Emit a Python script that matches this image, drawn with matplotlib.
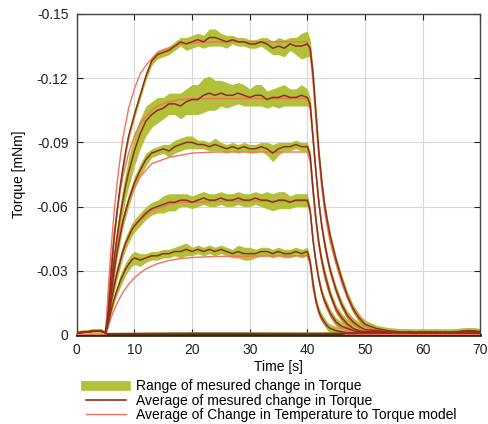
import numpy as np
import matplotlib.pyplot as plt
from matplotlib.lines import Line2D

plt.rcParams["font.family"] = ["Liberation Sans", "DejaVu Sans"]

# time grid of the measured data [s]
t_meas = [0, 1, 2, 3, 4, 5,
          5.5, 6, 6.5, 7, 7.5, 8, 8.5, 9, 9.5, 10,
          11, 12, 13, 14, 15, 16, 17, 18, 19, 20, 21, 22, 23, 24, 25,
          26, 27, 28, 29, 30, 31, 32, 33, 34, 35, 36, 37, 38, 39, 40,
          40.5, 41, 41.5, 42, 42.5, 43, 43.5, 44,
          45, 46, 47, 48, 49, 50,
          52, 54, 56, 58, 60, 62, 64, 66, 68, 70]

# averages of the measured torque change [mNm], five load cases
avg_a = [-0.001, -0.0012, -0.0015, -0.0018, -0.002, -0.001,
         -0.012, -0.030, -0.046, -0.058, -0.069, -0.078, -0.086, -0.093, -0.098, -0.103,
         -0.112, -0.121, -0.128, -0.131, -0.132, -0.133, -0.135, -0.137, -0.136, -0.137,
         -0.138, -0.137, -0.139, -0.139, -0.138, -0.137, -0.138, -0.137, -0.137, -0.136,
         -0.136, -0.137, -0.136, -0.134, -0.135, -0.134, -0.136, -0.135, -0.135, -0.136,
         -0.134, -0.122, -0.104, -0.086, -0.072, -0.061, -0.053, -0.046,
         -0.035, -0.026, -0.018, -0.012, -0.008, -0.005,
         -0.003, -0.002, -0.0015, -0.0015, -0.001, -0.0015, -0.001, -0.0015, -0.002, -0.0015]
avg_b = [-0.001, -0.0012, -0.0015, -0.0018, -0.002, -0.001,
         -0.010, -0.024, -0.036, -0.046, -0.055, -0.063, -0.070, -0.076, -0.081, -0.086,
         -0.094, -0.100, -0.103, -0.105, -0.106, -0.108, -0.108, -0.107, -0.109, -0.110,
         -0.110, -0.112, -0.113, -0.112, -0.113, -0.112, -0.112, -0.113, -0.112, -0.111,
         -0.112, -0.112, -0.110, -0.111, -0.111, -0.112, -0.111, -0.111, -0.112, -0.111,
         -0.108, -0.092, -0.076, -0.062, -0.051, -0.043, -0.036, -0.030,
         -0.021, -0.014, -0.009, -0.006, -0.004, -0.0025,
         -0.002, -0.0015, -0.0015, -0.001, -0.0015, -0.001, -0.001, -0.0015, -0.002, -0.0015]
avg_c = [-0.001, -0.0012, -0.0015, -0.0018, -0.002, -0.001,
         -0.009, -0.020, -0.030, -0.039, -0.046, -0.053, -0.058, -0.063, -0.067, -0.071,
         -0.077, -0.082, -0.085, -0.086, -0.087, -0.086, -0.088, -0.089, -0.090, -0.090,
         -0.089, -0.089, -0.088, -0.089, -0.088, -0.087, -0.088, -0.087, -0.088, -0.087,
         -0.087, -0.088, -0.087, -0.085, -0.087, -0.088, -0.088, -0.089, -0.088, -0.088,
         -0.084, -0.068, -0.054, -0.043, -0.035, -0.029, -0.024, -0.019,
         -0.012, -0.008, -0.005, -0.003, -0.002, -0.0015,
         -0.0015, -0.001, -0.0015, -0.001, -0.001, -0.0015, -0.001, -0.001, -0.0015, -0.001]
avg_d = [-0.001, -0.0012, -0.0015, -0.0018, -0.002, -0.001,
         -0.007, -0.016, -0.023, -0.029, -0.034, -0.039, -0.043, -0.046, -0.049, -0.051,
         -0.054, -0.057, -0.059, -0.060, -0.061, -0.062, -0.062, -0.063, -0.063, -0.062,
         -0.063, -0.064, -0.063, -0.063, -0.064, -0.063, -0.063, -0.064, -0.063, -0.063,
         -0.064, -0.063, -0.063, -0.062, -0.063, -0.063, -0.062, -0.063, -0.063, -0.063,
         -0.058, -0.044, -0.034, -0.026, -0.020, -0.016, -0.013, -0.010,
         -0.006, -0.004, -0.003, -0.002, -0.0015, -0.001,
         -0.001, -0.0015, -0.001, -0.001, -0.0015, -0.001, -0.001, -0.0015, -0.001, -0.001]
avg_e = [-0.001, -0.0012, -0.0015, -0.0018, -0.002, -0.001,
         -0.006, -0.012, -0.017, -0.021, -0.025, -0.028, -0.031, -0.033, -0.035, -0.036,
         -0.035, -0.036, -0.037, -0.037, -0.038, -0.038, -0.039, -0.039, -0.040, -0.039,
         -0.040, -0.039, -0.040, -0.039, -0.040, -0.039, -0.038, -0.039, -0.038, -0.038,
         -0.038, -0.039, -0.039, -0.038, -0.039, -0.038, -0.038, -0.039, -0.038, -0.039,
         -0.034, -0.024, -0.016, -0.011, -0.008, -0.006, -0.004, -0.003,
         -0.002, -0.0015, -0.001, -0.001, -0.001, -0.001,
         -0.001, -0.001, -0.0015, -0.001, -0.001, -0.001, -0.0015, -0.001, -0.002, -0.0015]

# half width of the measured range around each average
half_a = [0.001, 0.001, 0.001, 0.001, 0.001, 0.001,
          0.001, 0.002, 0.002, 0.002, 0.002, 0.002, 0.002, 0.002, 0.002, 0.002,
          0.002, 0.002, 0.002, 0.002, 0.002, 0.002, 0.002, 0.002, 0.003, 0.003,
          0.003, 0.003, 0.004, 0.004, 0.003, 0.003, 0.002, 0.002, 0.002, 0.002,
          0.002, 0.002, 0.003, 0.003, 0.004, 0.004, 0.003, 0.004, 0.006, 0.006,
          0.004, 0.003, 0.002, 0.002, 0.002, 0.002, 0.002, 0.002,
          0.002, 0.002, 0.002, 0.002, 0.002, 0.002,
          0.0015, 0.0015, 0.0015, 0.0015, 0.0015, 0.0015, 0.0015, 0.0015, 0.0015, 0.0015]
half_b = [0.001, 0.001, 0.001, 0.001, 0.001, 0.001,
          0.002, 0.003, 0.004, 0.005, 0.005, 0.006, 0.006, 0.007, 0.007, 0.007,
          0.007, 0.007, 0.006, 0.006, 0.005, 0.005, 0.005, 0.006, 0.006, 0.007,
          0.007, 0.008, 0.008, 0.007, 0.006, 0.006, 0.005, 0.005, 0.005, 0.004,
          0.005, 0.005, 0.004, 0.004, 0.005, 0.005, 0.004, 0.004, 0.005, 0.004,
          0.003, 0.003, 0.002, 0.002, 0.002, 0.002, 0.002, 0.002,
          0.002, 0.002, 0.002, 0.002, 0.002, 0.002,
          0.0015, 0.0015, 0.0015, 0.0015, 0.0015, 0.0015, 0.0015, 0.0015, 0.0015, 0.0015]
half_c = [0.001, 0.001, 0.001, 0.001, 0.001, 0.001,
          0.002, 0.002, 0.003, 0.003, 0.003, 0.003, 0.003, 0.003, 0.003, 0.003,
          0.003, 0.003, 0.002, 0.002, 0.002, 0.003, 0.003, 0.003, 0.003, 0.003,
          0.002, 0.002, 0.002, 0.003, 0.002, 0.002, 0.002, 0.002, 0.002, 0.002,
          0.002, 0.002, 0.003, 0.004, 0.003, 0.002, 0.002, 0.002, 0.002, 0.002,
          0.002, 0.002, 0.002, 0.002, 0.002, 0.002, 0.002, 0.002,
          0.002, 0.002, 0.002, 0.002, 0.002, 0.002,
          0.0015, 0.0015, 0.0015, 0.0015, 0.0015, 0.0015, 0.0015, 0.0015, 0.0015, 0.0015]
half_d = [0.001, 0.001, 0.001, 0.001, 0.001, 0.001,
          0.002, 0.002, 0.003, 0.003, 0.003, 0.003, 0.003, 0.003, 0.003, 0.003,
          0.003, 0.003, 0.003, 0.003, 0.004, 0.004, 0.004, 0.003, 0.003, 0.003,
          0.003, 0.003, 0.003, 0.003, 0.003, 0.003, 0.003, 0.003, 0.003, 0.003,
          0.003, 0.003, 0.004, 0.004, 0.004, 0.004, 0.003, 0.003, 0.003, 0.003,
          0.002, 0.002, 0.002, 0.002, 0.002, 0.002, 0.002, 0.002,
          0.002, 0.002, 0.002, 0.002, 0.002, 0.002,
          0.0015, 0.0015, 0.0015, 0.0015, 0.0015, 0.0015, 0.0015, 0.0015, 0.0015, 0.0015]
half_e = [0.001, 0.001, 0.001, 0.001, 0.001, 0.001,
          0.002, 0.002, 0.002, 0.002, 0.003, 0.003, 0.003, 0.003, 0.003, 0.003,
          0.003, 0.002, 0.002, 0.002, 0.002, 0.002, 0.002, 0.003, 0.003, 0.002,
          0.002, 0.002, 0.002, 0.002, 0.002, 0.002, 0.002, 0.003, 0.003, 0.003,
          0.002, 0.002, 0.002, 0.002, 0.002, 0.002, 0.002, 0.002, 0.002, 0.002,
          0.002, 0.002, 0.002, 0.002, 0.002, 0.002, 0.002, 0.002,
          0.002, 0.002, 0.002, 0.002, 0.002, 0.002,
          0.0015, 0.0015, 0.0015, 0.0015, 0.0015, 0.0015, 0.0015, 0.0015, 0.0015, 0.0015]

# no-load case, stays near zero
t_zero = [5, 20, 40, 55, 70]
avg_zero = [-0.0006, -0.0008, -0.0007, -0.0009, -0.0008]
half_zero = [0.0006, 0.0007, 0.0007, 0.0007, 0.0007]

# temperature-to-torque model
t_model = [0, 5, 5.5, 6, 6.5, 7, 7.5, 8, 9, 10, 11, 12, 13, 14, 16, 18, 20, 24,
           40, 40.5, 41, 41.5, 42, 42.5, 43, 43.5, 44, 45, 46, 47, 48, 49, 50, 52, 55, 70]
model_a = [0, 0, -0.023, -0.042, -0.058, -0.071, -0.082, -0.092, -0.106, -0.115, -0.122,
           -0.126, -0.129, -0.132, -0.134, -0.136, -0.1365, -0.137,
           -0.137, -0.132, -0.118, -0.100, -0.083, -0.069, -0.058, -0.050, -0.043,
           -0.033, -0.024, -0.017, -0.011, -0.007, -0.004, -0.002, -0.001, 0]
model_b = [0, 0, -0.019, -0.034, -0.047, -0.058, -0.067, -0.074, -0.085, -0.093, -0.099,
           -0.102, -0.105, -0.107, -0.109, -0.110, -0.1105, -0.1105,
           -0.1105, -0.106, -0.091, -0.076, -0.062, -0.051, -0.042, -0.035, -0.029,
           -0.020, -0.013, -0.008, -0.005, -0.003, -0.002, -0.001, 0, 0]
model_c = [0, 0, -0.013, -0.024, -0.034, -0.042, -0.048, -0.054, -0.063, -0.069, -0.074,
           -0.077, -0.080, -0.081, -0.083, -0.084, -0.085, -0.0855,
           -0.0855, -0.081, -0.066, -0.053, -0.042, -0.034, -0.027, -0.022, -0.018,
           -0.011, -0.007, -0.004, -0.002, -0.001, -0.001, 0, 0, 0]
model_d = [0, 0, -0.010, -0.018, -0.025, -0.030, -0.035, -0.040, -0.046, -0.051, -0.054,
           -0.056, -0.058, -0.059, -0.061, -0.062, -0.062, -0.0625,
           -0.0625, -0.058, -0.044, -0.034, -0.026, -0.020, -0.015, -0.012, -0.009,
           -0.005, -0.003, -0.002, -0.001, 0, 0, 0, 0, 0]
model_e = [0, 0, -0.0044, -0.0084, -0.0118, -0.0148, -0.0175, -0.0199, -0.0237, -0.0267, -0.029,
           -0.0309, -0.0322, -0.0333, -0.0348, -0.0357, -0.0362, -0.0367,
           -0.037, -0.033, -0.022, -0.015, -0.010, -0.007, -0.005, -0.004, -0.003,
           -0.002, -0.001, 0, 0, 0, 0, 0, 0, 0]

x_ticks = [0, 10, 20, 30, 40, 50, 60, 70]
y_ticks = [0, -0.03, -0.06, -0.09, -0.12, -0.15]
y_tick_labels = ["0", "-0.03", "-0.06", "-0.09", "-0.12", "-0.15"]

band_col = "#b2c03a"
meas_col = "#8e2f1c"
model_col = "#f2725c"

fig = plt.figure(figsize=(4.89, 4.24), dpi=100)
ax = fig.add_axes([0.157, 0.21, 0.825, 0.757])

averages = [avg_a, avg_b, avg_c, avg_d, avg_e]
halves = [half_a, half_b, half_c, half_d, half_e]
models = [model_a, model_b, model_c, model_d, model_e]

tm = np.array(t_meas)
for avg, half in zip(averages, halves):
    avg, half = np.array(avg), np.array(half)
    ax.fill_between(tm, avg - half, avg + half, color=band_col, lw=0, zorder=2)
za, zh = np.array(avg_zero), np.array(half_zero)
ax.fill_between(t_zero, za - zh, za + zh, color=band_col, lw=0, zorder=2)

for model in models:
    ax.plot(t_model, model, color=model_col, lw=1.0, zorder=3)

for avg in averages:
    ax.plot(t_meas, avg, color=meas_col, lw=1.1, zorder=4)
ax.plot(t_zero, avg_zero, color=meas_col, lw=1.1, zorder=4)

ax.set_xlim(0, 70)
ax.set_ylim(0, -0.15)
ax.set_xticks(x_ticks)
ax.set_yticks(y_ticks)
ax.set_yticklabels(y_tick_labels)
ax.tick_params(direction="in", length=4, top=True, right=True, labelsize=10,
               colors="#222222", pad=6)
ax.grid(color="#d8d8d8", lw=0.8)
ax.set_axisbelow(True)
for s in ax.spines.values():
    s.set_color("#444444")
    s.set_linewidth(1.0)
ax.spines["bottom"].set_color("#3a2416")
ax.spines["bottom"].set_linewidth(2.0)

ax.set_xlabel("Time [s]", fontsize=10, labelpad=2)
ax.set_ylabel("Torque [mNm]", fontsize=10, labelpad=8)

handles = [Line2D([], [], color=band_col, lw=7),
           Line2D([], [], color=meas_col, lw=1.2),
           Line2D([], [], color=model_col, lw=1.0)]
labels = ["Range of mesured change in Torque",
          "Average of mesured change in Torque",
          "Average of Change in Temperature to Torque model"]
fig.legend(handles, labels, loc="upper left", bbox_to_anchor=(0.175, 0.105),
           frameon=False, fontsize=10, handlelength=2.9, handletextpad=0.7,
           labelspacing=0.02, borderpad=0, borderaxespad=0)

fig.savefig("out.png", dpi=100)
